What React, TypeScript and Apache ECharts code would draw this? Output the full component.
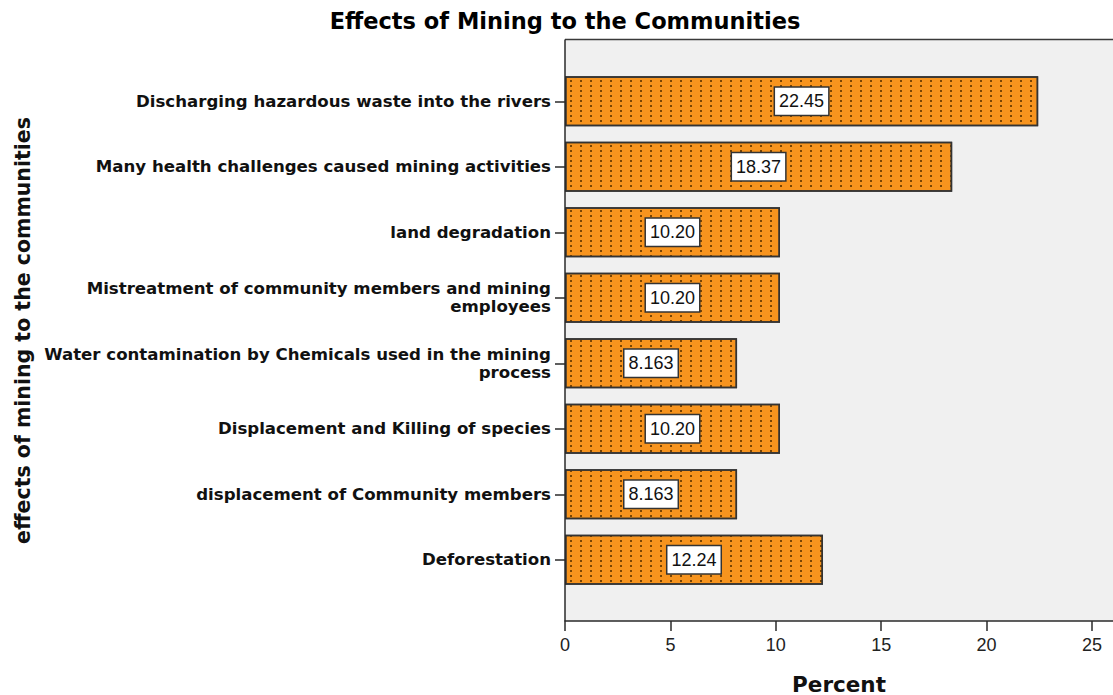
import React, { useEffect, useRef } from "react";
import * as echarts from "echarts";

const categories = [
  "Discharging hazardous waste into the rivers",
  "Many health challenges caused mining activities",
  "land degradation",
  "Mistreatment of community members and mining employees",
  "Water contamination by Chemicals used in the mining process",
  "Displacement and Killing of species",
  "displacement of Community members",
  "Deforestation",
];
const percents = [22.45, 18.37, 10.2, 10.2, 8.163, 10.2, 8.163, 12.24];
const xTicks = { min: 0, max: 26, interval: 5 };
const titleText = "Effects of Mining to the Communities";
const xName = "Percent";
const yName = "effects of mining to the communities";

const W = 1113;
const H = 695;
const PL = 565; // plot left
const PT = 39.5; // plot top
const PB = 621; // x axis line
const GT = 68.5; // first band top
const GB = 592.5; // last band bottom
const WRAP = 51;

function wrap(s: string): string {
  const words = s.split(" ");
  const lines: string[] = [];
  let cur = "";
  for (const w of words) {
    const next = cur ? cur + " " + w : w;
    if (next.length > WRAP && cur) {
      lines.push(cur);
      cur = w;
    } else {
      cur = next;
    }
  }
  if (cur) lines.push(cur);
  return lines.join("\n");
}

export default function App() {
  const ref = useRef<HTMLDivElement>(null);
  useEffect(() => {
    if (!ref.current) return;
    const chart = echarts.init(ref.current, undefined, { renderer: "svg" });
    const bold = "DejaVu Sans";
    chart.setOption({
      animation: false,
      aria: { enabled: true, decal: { show: true } },
      backgroundColor: "#ffffff",
      title: {
        text: titleText,
        left: 560,
        textAlign: "center",
        top: 4,
        textStyle: { fontFamily: bold, fontWeight: "bold", fontSize: 22.5, color: "#000" },
      },
      grid: {
        left: PL,
        right: 0,
        top: GT,
        bottom: H - GB,
        containLabel: false,
        outerBoundsMode: "none",
      },
      xAxis: {
        type: "value",
        min: xTicks.min,
        max: xTicks.max,
        interval: xTicks.interval,
        offset: PB - GB,
        splitLine: { show: false },
        axisLine: { show: true, lineStyle: { color: "#2a2a2a", width: 1.5 } },
        axisTick: { show: true, length: 10, lineStyle: { color: "#2a2a2a", width: 1.5 } },
        axisLabel: {
          margin: 15,
          fontFamily: "Liberation Sans",
          fontSize: 18,
          color: "#222",
          showMaxLabel: false,
          formatter: (v: number) => (v % 5 === 0 ? String(v) : ""),
        },
        name: xName,
        nameLocation: "middle",
        nameGap: 52,
        nameTextStyle: { fontFamily: bold, fontWeight: "bold", fontSize: 21.5, color: "#111" },
      },
      yAxis: {
        type: "category",
        inverse: true,
        data: categories,
        axisLine: { show: false },
        axisTick: { show: true, alignWithLabel: true, length: 10, lineStyle: { color: "#2a2a2a", width: 1.5 } },
        axisLabel: {
          margin: 14,
          fontFamily: bold,
          fontWeight: "bold",
          fontSize: 16.6,
          lineHeight: 18,
          color: "#111",
          align: "right",
          formatter: (v: string) => wrap(v),
        },
        name: yName,
        nameLocation: "middle",
        nameRotate: 90,
        nameGap: PL - 33,
        nameTextStyle: { fontFamily: bold, fontWeight: "bold", fontSize: 20.5, color: "#111" },
      },
      graphic: [
        {
          type: "rect",
          z: -10,
          shape: { x: PL, y: PT, width: W - PL + 5, height: PB - PT },
          style: { fill: "#F0F0F0", stroke: "none" },
          silent: true,
        },
        {
          type: "line",
          z: 100,
          shape: { x1: PL, y1: PT, x2: W + 5, y2: PT },
          style: { stroke: "#3a3a3a", lineWidth: 1.5 },
          silent: true,
        },
        {
          type: "line",
          z: 100,
          shape: { x1: PL, y1: PT, x2: PL, y2: PB },
          style: { stroke: "#2a2a2a", lineWidth: 1.5 },
          silent: true,
        },
      ],
      series: [
        {
          type: "bar",
          data: percents,
          barWidth: 50,
          itemStyle: {
            color: "#F7941E",
            borderColor: "#333",
            borderWidth: 1.5,
            decal: {
              symbol: "rect",
              symbolSize: 1,
              color: "rgba(100,55,0,0.85)",
              dashArrayX: [1.3, 7.2],
              dashArrayY: [2, 3],
              rotation: 0,
            },
          },
          label: {
            show: true,
            position: "inside",
            formatter: (p: any) => Number(p.value).toPrecision(4),
            fontFamily: "Liberation Sans",
            fontSize: 18,
            lineHeight: 18,
            color: "#111",
            backgroundColor: "#ffffff",
            borderColor: "#333",
            borderWidth: 1.5,
            padding: [5, 4, 4, 4],
          },
        },
      ],
    });
    return () => chart.dispose();
  }, []);
  return (
    <div
      ref={ref}
      style={{ position: "fixed", left: 0, top: 0, width: W, height: H, background: "#fff" }}
    />
  );
}
